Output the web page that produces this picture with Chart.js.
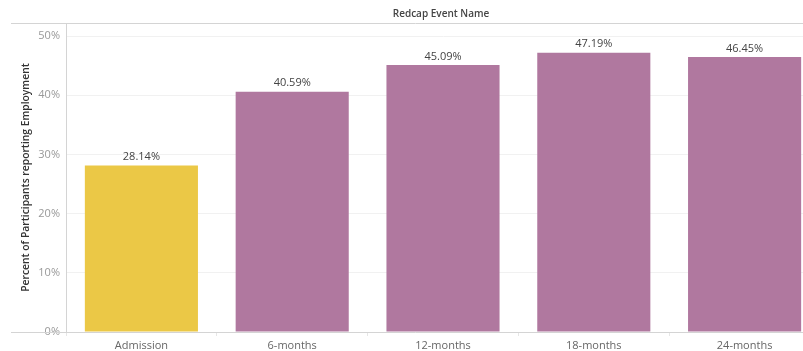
<!DOCTYPE html>
<html>
<head>
<meta charset="utf-8">
<script src="https://cdn.jsdelivr.net/npm/chart.js@4"></script>
<style>
  html, body { margin: 0; padding: 0; background: #fff; overflow: hidden; }
  #wrap { position: relative; width: 820px; height: 351px; }
</style>
</head>
<body>
<div id="wrap"><canvas id="employmentChart"></canvas></div>
<script>
const events = ['Admission', '6-months', '12-months', '18-months', '24-months'];
const employedPct = [28.14, 40.59, 45.09, 47.19, 46.45];
const barColors = ['#ebc846', '#b0789f', '#b0789f', '#b0789f', '#b0789f'];
const yTicks = [0, 10, 20, 30, 40, 50];

const fontFamily = "'Open Sans', 'Noto Sans', sans-serif";

// header title + rule lines and value labels on top of bars
const decorations = {
    id: 'decorations',
    afterDatasetsDraw(chart) {
        const ctx = chart.ctx;
        const area = chart.chartArea;
        ctx.save();

        ctx.strokeStyle = '#d4d4d4';
        ctx.lineWidth = 1;
        ctx.beginPath();
        ctx.moveTo(11, area.top + 0.5);
        ctx.lineTo(chart.width, area.top + 0.5);
        ctx.moveTo(11, area.bottom + 0.5);
        ctx.lineTo(chart.width, area.bottom + 0.5);
        ctx.stroke();

        ctx.fillStyle = '#444';
        ctx.font = '600 10px ' + fontFamily;
        ctx.textAlign = 'center';
        ctx.textBaseline = 'middle';
        ctx.fillText('Redcap Event Name', 441, 14);

        const meta = chart.getDatasetMeta(0);
        ctx.font = '11px ' + fontFamily;
        ctx.fillStyle = '#444';
        ctx.textBaseline = 'bottom';
        meta.data.forEach((bar, i) => {
            ctx.fillText(employedPct[i].toFixed(2) + '%', bar.x, bar.y - 3);
        });
        ctx.restore();
    }
};

new Chart(document.getElementById('employmentChart'), {
    type: 'bar',
    data: {
        labels: events,
        datasets: [{
            data: employedPct,
            backgroundColor: barColors,
            categoryPercentage: 1,
            barPercentage: 0.75
        }]
    },
    options: {
        responsive: true,
        maintainAspectRatio: false,
        animation: false,
        layout: { padding: { top: 23, right: 0, bottom: 0, left: 0 } },
        plugins: {
            legend: { display: false },
            tooltip: { enabled: false }
        },
        scales: {
            x: {
                offset: true,
                grid: {
                    offset: true,
                    drawOnChartArea: false,
                    color: '#e6e6e6',
                    tickLength: 4
                },
                border: { display: false },
                ticks: {
                    color: '#666',
                    font: { family: fontFamily, size: 11 },
                    padding: 3,
                    maxRotation: 0
                },
                afterFit(scale) { scale.height = 19; }
            },
            y: {
                min: 0,
                max: 52.2,
                afterBuildTicks(scale) {
                    scale.ticks = yTicks.map(v => ({ value: v }));
                },
                grid: { color: '#f1f1f1', drawTicks: false },
                border: { color: '#d4d4d4' },
                ticks: {
                    color: '#999',
                    font: { family: fontFamily, size: 11 },
                    padding: 6,
                    callback: v => v + '%'
                },
                title: {
                    display: true,
                    text: 'Percent of Participants reporting Employment',
                    color: '#333',
                    font: { family: fontFamily, size: 10.3, weight: '600' },
                    padding: { top: 20, bottom: 0 }
                },
                afterFit(scale) { scale.width = 66; }
            }
        }
    },
    plugins: [decorations]
});
</script>
</body>
</html>
